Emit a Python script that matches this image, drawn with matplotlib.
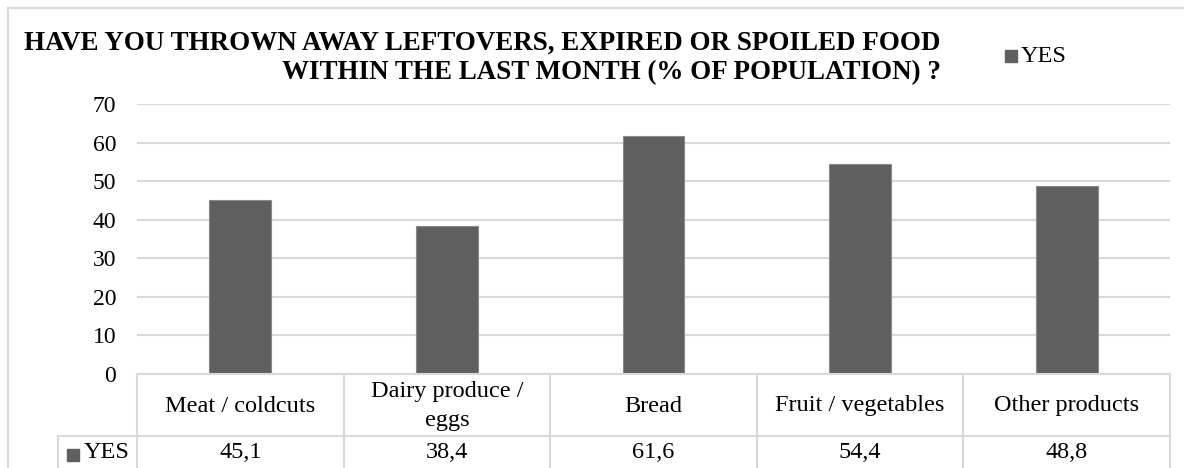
import matplotlib.pyplot as plt
from matplotlib.lines import Line2D
from matplotlib.patches import Rectangle

plt.rcParams['font.family'] = ['Liberation Serif', 'DejaVu Serif']

# Datos de la encuesta
categorias = ["Meat / coldcuts", "Dairy produce /\neggs", "Bread",
              "Fruit / vegetables", "Other products"]
valores_yes = [45.1, 38.4, 61.6, 54.4, 48.8]
etiquetas_yes = ["45,1", "38,4", "61,6", "54,4", "48,8"]
serie = "YES"
titulo = ("HAVE YOU THROWN AWAY LEFTOVERS, EXPIRED OR SPOILED FOOD\n"
          "WITHIN THE LAST MONTH (% OF POPULATION) ?")

W, H = 1184, 468
gris_barra = "#5f5f5f"
gris_linea = "#d9d9d9"

fig = plt.figure(figsize=(W / 100, H / 100), dpi=100)


def fx(px):
    return px / W


def fy(py):
    return 1 - py / H


# Ejes del gráfico (en píxeles de la figura)
x0, x1 = 137, 1170
y_top, y_cero = 104, 374
ax = fig.add_axes([fx(x0), fy(y_cero), fx(x1) - fx(x0), fy(y_top) - fy(y_cero)])

n = len(categorias)
pos = list(range(n))
ax.bar(pos, valores_yes, width=0.3, color=gris_barra, edgecolor="#8a8a8a",
       linewidth=0.8, zorder=3)
ax.set_xlim(-0.5, n - 0.5)
ax.set_ylim(0, 70)
ax.set_yticks(range(0, 71, 10))
ax.set_xticks([])
ax.tick_params(axis='y', length=0, labelsize=17, pad=15)
ax.grid(axis='y', color=gris_linea, linewidth=1.5, zorder=0)
for s in ax.spines.values():
    s.set_visible(False)

# Borde exterior del área del gráfico
fig.add_artist(Line2D([fx(8), fx(8)], [fy(8), fy(H + 5)], color=gris_linea,
                      lw=1.5, transform=fig.transFigure))
fig.add_artist(Line2D([fx(8), fx(W + 5)], [fy(8), fy(8)], color=gris_linea,
                      lw=1.5, transform=fig.transFigure))

# Tabla de datos debajo del eje
fila1 = 436
celda = (x1 - x0) / n
lineas = [
    ([x0, x1], [y_cero, y_cero]),
    ([58, x1], [fila1, fila1]),
    ([58, 58], [fila1, H + 5]),
]
for k in range(n + 1):
    xk = x0 + k * celda
    lineas.append(([xk, xk], [y_cero, H + 5]))
for xs, ys in lineas:
    fig.add_artist(Line2D([fx(v) for v in xs], [fy(v) for v in ys],
                          color=gris_linea, lw=1.5, transform=fig.transFigure))

for k in range(n):
    xc = x0 + (k + 0.5) * celda
    fig.text(fx(xc), fy(406), categorias[k], ha='center', va='center',
             fontsize=17.5, linespacing=1.45)
    fig.text(fx(xc), fy(453), etiquetas_yes[k], ha='center', va='center',
             fontsize=17.5)

# Cabecera de fila con la clave de color
fig.add_artist(Rectangle((fx(67), fy(461)), fx(12), 12 / H, color=gris_barra,
                         transform=fig.transFigure))
fig.text(fx(84), fy(453), serie, ha='left', va='center', fontsize=17.5)

# Leyenda
fig.add_artist(Rectangle((fx(1005), fy(62)), fx(12), 12 / H, color=gris_barra,
                         transform=fig.transFigure))
fig.text(fx(1021), fy(56), serie, ha='left', va='center', fontsize=17.5)

# Título
fig.text(fx(941), fy(58), titulo, ha='right', va='center', fontsize=19.45,
         fontweight='bold', linespacing=1.2)

fig.savefig("out.png", dpi=100)
